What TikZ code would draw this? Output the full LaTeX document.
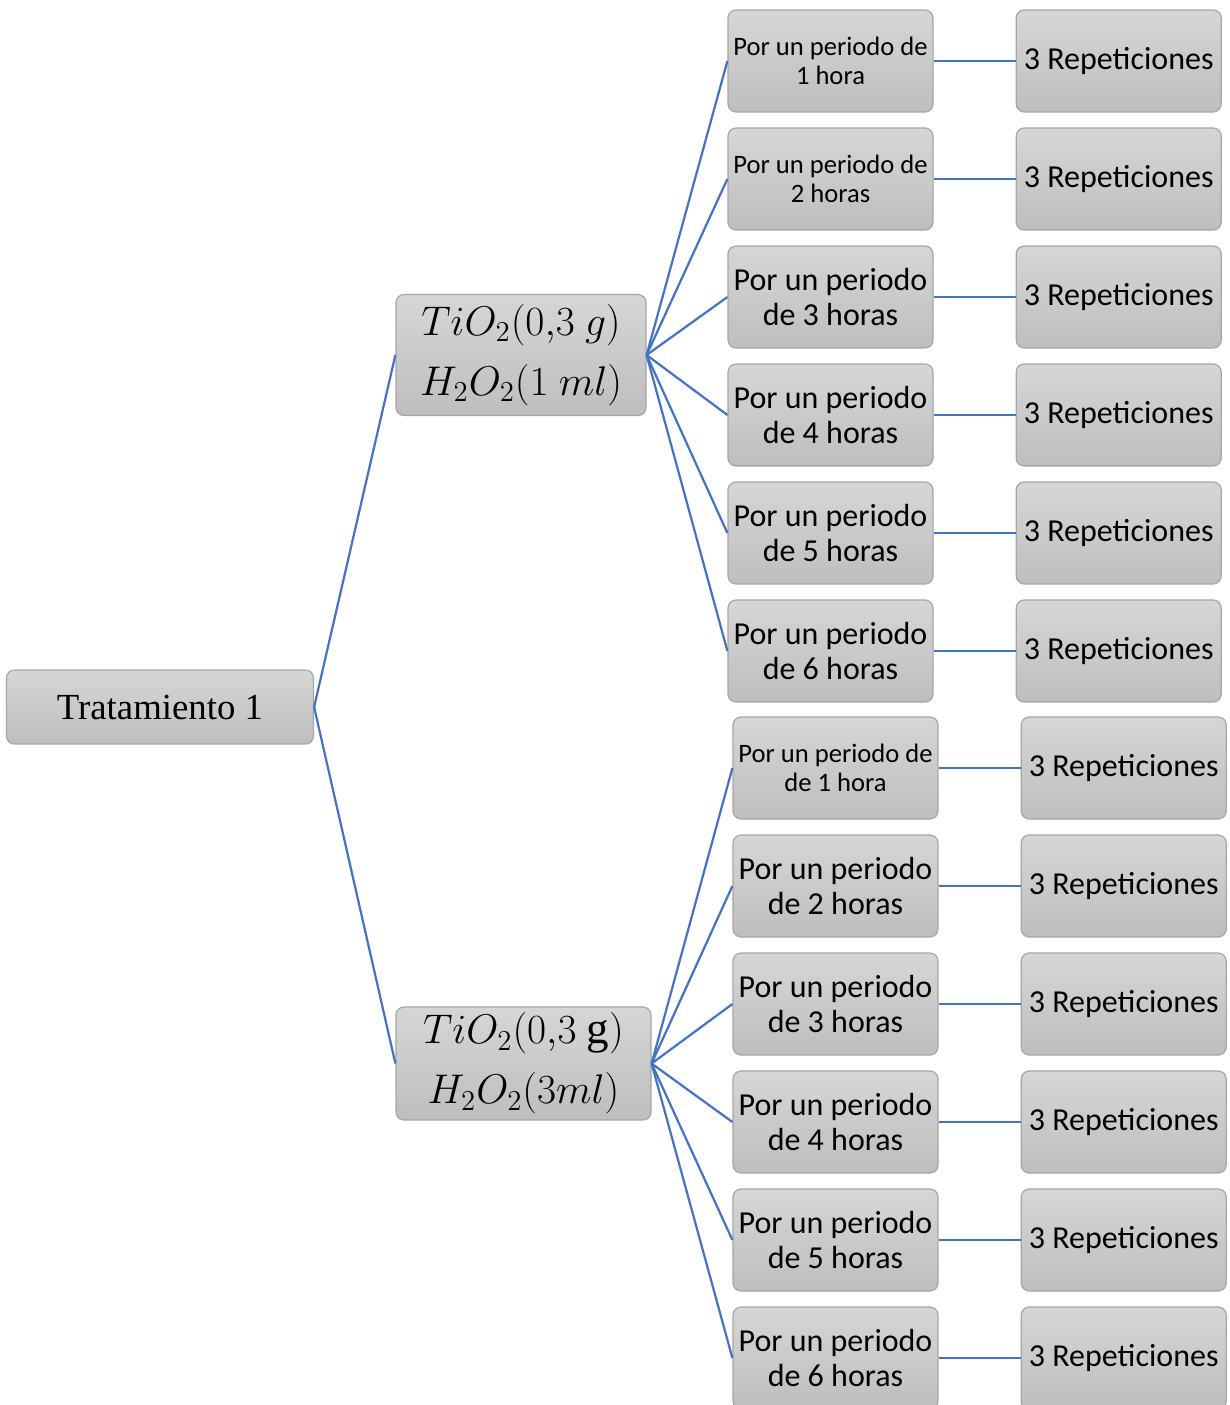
\documentclass[tikz,border=0pt]{standalone}
\usepackage{fontspec}
\setmainfont{Carlito}
\newfontfamily\timesfont{Liberation Serif}
\usetikzlibrary{positioning}
\definecolor{boxtop}{RGB}{214,214,214}
\definecolor{boxbot}{RGB}{190,190,190}
\definecolor{boxline}{RGB}{166,166,166}
\definecolor{edgeblue}{RGB}{68,114,196}
\tikzset{blk/.style={draw=boxline, rounded corners=4pt, top color=boxtop, bottom color=boxbot, align=center, inner sep=1pt, line width=0.6pt}}
\tikzset{per/.style={blk, minimum width=102.5pt, minimum height=51pt, font=\fontsize{16}{17.5}\selectfont}}
\tikzset{persm/.style={per, font=\fontsize{13.3}{14.5}\selectfont}}
\tikzset{mix/.style={blk, font=\fontsize{22.5}{30}\selectfont}}
\tikzset{ed/.style={draw=edgeblue, line width=1.1pt}}

\begin{document}
\begin{tikzpicture}[x=0.5pt,y=-0.5pt]
        \clip (0,0) rectangle (1230,1405);
        \useasboundingbox (0,0) rectangle (1230,1405);

        \node[blk, minimum width=153.5pt, minimum height=37pt, font=\timesfont\fontsize{18.4}{20}\selectfont] (T) at (160,707) {Tratamiento 1};

        \node[mix, minimum width=125pt, minimum height=60.5pt] (M1) at (521,355) {$TiO_2(0{,}3\ g)$\\ $H_2O_2(1\ ml)$};
        \node[mix, minimum width=127.5pt, minimum height=56.5pt] (M2) at (523.5,1063.5) {$TiO_2(0{,}3\ \mbox{\timesfont g})$\\ $H_2O_2(3ml)$};

        % primer grupo
        \node[persm] (P1) at (830.5,61) {Por un periodo de\\ 1 hora};
        \node[persm] (P2) at (830.5,179) {Por un periodo de\\ 2 horas};
        \node[per] (P3) at (830.5,297) {Por un periodo\\ de 3 horas};
        \node[per] (P4) at (830.5,415) {Por un periodo\\ de 4 horas};
        \node[per] (P5) at (830.5,533) {Por un periodo\\ de 5 horas};
        \node[per] (P6) at (830.5,651) {Por un periodo\\ de 6 horas};

        % segundo grupo
        \node[persm] (Q1) at (835.5,768) {Por un periodo de\\ de 1 hora};
        \node[per] (Q2) at (835.5,886) {Por un periodo\\ de 2 horas};
        \node[per] (Q3) at (835.5,1004) {Por un periodo\\ de 3 horas};
        \node[per] (Q4) at (835.5,1122) {Por un periodo\\ de 4 horas};
        \node[per] (Q5) at (835.5,1240) {Por un periodo\\ de 5 horas};
        \node[per] (Q6) at (835.5,1358) {Por un periodo\\ de 6 horas};

        \foreach \i in {1,...,6} {
            \node[per] (R\i) [right=41pt of P\i] {3 Repeticiones};
            \node[per] (S\i) [right=41pt of Q\i] {3 Repeticiones};
            \draw[ed] (M1.east) -- (P\i.west);
            \draw[ed] (M2.east) -- (Q\i.west);
            \draw[ed] (P\i) -- (R\i);
            \draw[ed] (Q\i) -- (S\i);
        }

        \draw[ed] (T.east) -- (M1.west);
        \draw[ed] (T.east) -- (M2.west);
\end{tikzpicture}
\end{document}
